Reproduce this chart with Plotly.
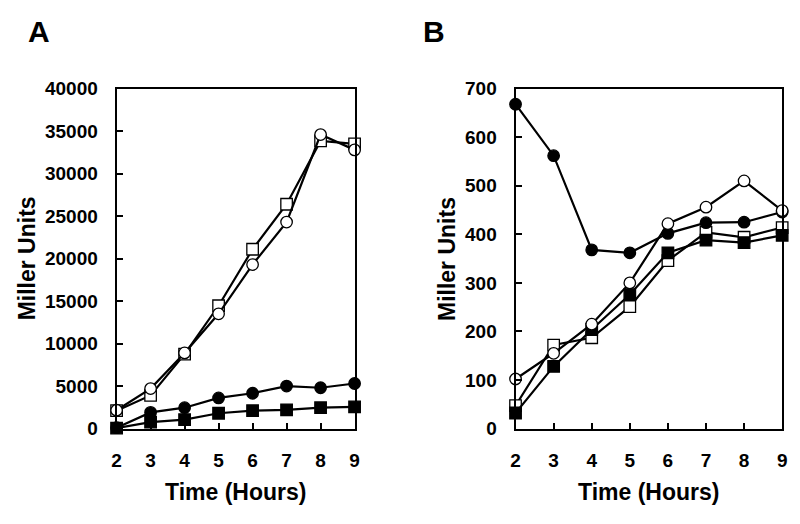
import plotly.graph_objects as go

hours = [2, 3, 4, 5, 6, 7, 8, 9]

# Panel A
a_open_circle = [2150, 4700, 8900, 13500, 19300, 24300, 34600, 32800]
a_open_square = [2100, 3900, 8750, 14450, 21100, 26400, 33850, 33500]
a_filled_circle = [100, 1900, 2450, 3600, 4150, 5000, 4800, 5300]
a_filled_square = [50, 750, 1050, 1800, 2100, 2200, 2450, 2550]

# Panel B
b_open_circle = [102, 155, 215, 300, 422, 456, 510, 449]
b_open_square = [47, 172, 187, 251, 346, 404, 394, 414]
b_filled_circle = [668, 562, 368, 362, 402, 424, 425, 446]
b_filled_square = [32, 128, 204, 276, 362, 388, 383, 398]

a_yticks = [0, 5000, 10000, 15000, 20000, 25000, 30000, 35000, 40000]
b_yticks = [0, 100, 200, 300, 400, 500, 600, 700]

FONT = "Liberation Sans, Arial, sans-serif"

fig = go.Figure()


def add_series(y, symbol, filled, xa, ya):
    fig.add_trace(go.Scatter(
        x=hours, y=y, mode="lines+markers",
        line=dict(color="black", width=2.2),
        marker=dict(symbol=symbol, size=11.5,
                    color="black" if filled else "white",
                    line=dict(color="black", width=1.3)),
        xaxis=xa, yaxis=ya, cliponaxis=False, showlegend=False))


for (data, xa, ya) in [((a_open_square, a_filled_square, a_filled_circle, a_open_circle), "x", "y"),
                       ((b_open_square, b_filled_square, b_filled_circle, b_open_circle), "x2", "y2")]:
    osq, fsq, fci, oci = data
    add_series(osq, "square", False, xa, ya)
    add_series(fsq, "square", True, xa, ya)
    add_series(fci, "circle", True, xa, ya)
    add_series(oci, "circle", False, xa, ya)

W, H = 800, 524
top, bottom = 82, 436
ydom = [1 - bottom / H, 1 - top / H]

axis_common = dict(showline=True, linecolor="black", linewidth=2, mirror=True,
                   ticks="inside", ticklen=6, tickwidth=2, tickcolor="black",
                   showgrid=False, zeroline=False, tickformat="d",
                   tickfont=dict(family=FONT, size=19, color="black", weight="bold"))

fig.update_layout(
    width=W, height=H,
    margin=dict(l=0, r=0, t=0, b=0),
    paper_bgcolor="white", plot_bgcolor="white",
    xaxis=dict(domain=[113 / W, 354 / W], range=[2, 9], tickvals=hours,
               ticklabelstandoff=14, **axis_common),
    yaxis=dict(domain=ydom, range=[0, 40000], tickvals=a_yticks,
               ticklabelstandoff=13, **axis_common),
    xaxis2=dict(domain=[517 / W, 787 / W], range=[2, 9], tickvals=hours,
                anchor="y2", ticklabelstandoff=14, **axis_common),
    yaxis2=dict(domain=ydom, range=[0, 700], tickvals=b_yticks,
                anchor="x2", ticklabelstandoff=13, **axis_common),
)

title_font = dict(family=FONT, size=23, color="black", weight="bold")
panel_font = dict(family=FONT, size=30, color="black", weight="bold")
ann = [
    dict(text="A", x=34 / W, y=1 - 22 / H, font=panel_font),
    dict(text="B", x=434 / W, y=1 - 22 / H, font=panel_font),
    dict(text="Time (Hours)", x=233.5 / W, y=1 - 502 / H, font=title_font),
    dict(text="Time (Hours)", x=652 / W, y=1 - 502 / H, font=title_font),
    dict(text="Miller Units", x=22 / W, y=1 - 259 / H, font=title_font, textangle=-90),
    dict(text="Miller Units", x=447 / W, y=1 - 259 / H, font=title_font, textangle=-90),
]
for a in ann:
    fig.add_annotation(xref="paper", yref="paper", showarrow=False,
                       xanchor="center", yanchor="middle", **a)

fig.write_html("out.html", config={"displayModeBar": False},
               post_script="document.body.style.margin='0';")
